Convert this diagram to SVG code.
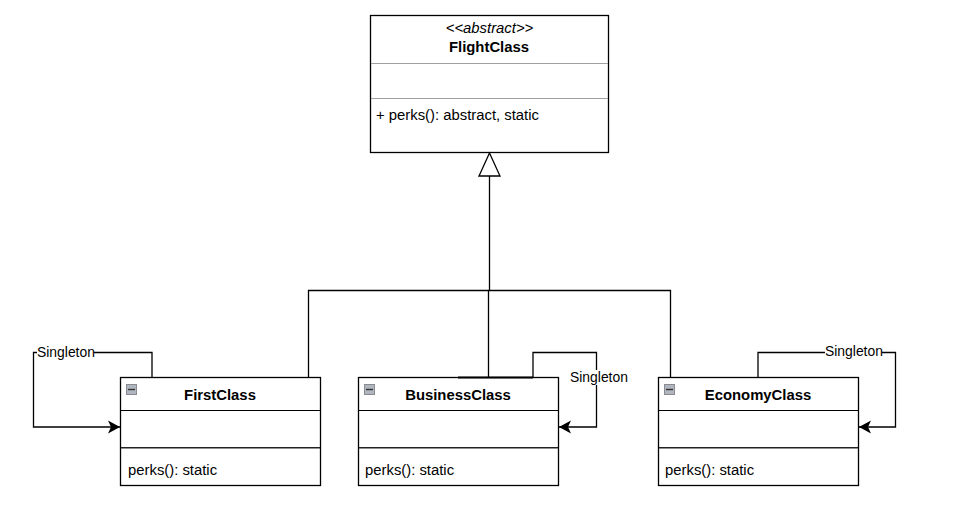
<svg xmlns="http://www.w3.org/2000/svg" width="961" height="522" viewBox="0 0 961 522">
<style>
text{font-family:"Liberation Sans",Arial,sans-serif;font-size:14.85px;fill:#000}
.n{text-anchor:middle}
.b{font-weight:bold;text-anchor:middle}
.s{font-size:13.9px}
.box{fill:#fff;stroke:#000;stroke-width:1.3}
.sep{stroke:#000;stroke-width:1;fill:none}
.sep2{stroke:#222;stroke-width:1.6;fill:none}
.lsep{stroke:#a0a0a0;stroke-width:1;fill:none}
.c{fill:none;stroke:#000;stroke-width:1.3}
.ico{fill:#b0b6c0;stroke:#8a8a90;stroke-width:1}
.mi{stroke:#333;stroke-width:1.4}
.lb{fill:#fff}
</style>
<defs>
<marker id="a" markerUnits="userSpaceOnUse" markerWidth="14" markerHeight="14" refX="12" refY="7" orient="auto">
<path d="M0 .5L12 7L0 13.500L3 7Z" fill="#000"/>
</marker>
</defs>
<rect width="961" height="522" fill="#fff"/>
<g id="FlightClass">
<rect class="box" x="370.500" y="15.500" width="238" height="137"/>
<path class="lsep" d="M371 63.500H608M371 98.500H608"/>
<text class="n" x="489.500" y="33" font-style="italic">&lt;&lt;abstract&gt;&gt;</text>
<text class="b" x="489" y="52">FlightClass</text>
<text x="376" y="120">+ perks(): abstract, static</text>
</g>
<g id="FirstClass">
<rect class="box" x="120.500" y="377.500" width="200" height="108"/>
<path class="sep" d="M121 410.500H320"/>
<path class="sep2" d="M121 447.700H320"/>
<rect class="ico" x="126.500" y="384.500" width="10" height="10"/>
<path class="mi" d="M128 389.500H135"/>
<text class="b" x="220" y="400">FirstClass</text>
<text x="128" y="475">perks(): static</text>
</g>
<g id="BusinessClass">
<rect class="box" x="358.500" y="377.500" width="200" height="108"/>
<path class="sep" d="M359 410.500H558"/>
<path class="sep2" d="M359 447.700H558"/>
<rect class="ico" x="364.500" y="384.500" width="10" height="10"/>
<path class="mi" d="M366 389.500H373"/>
<text class="b" x="458" y="400">BusinessClass</text>
<text x="365" y="475">perks(): static</text>
</g>
<g id="EconomyClass">
<rect class="box" x="658.500" y="377.500" width="200" height="108"/>
<path class="sep" d="M659 410.500H858"/>
<path class="sep2" d="M659 447.700H858"/>
<rect class="ico" x="664.500" y="384.500" width="10" height="10"/>
<path class="mi" d="M666 389.500H673"/>
<text class="b" x="758" y="400">EconomyClass</text>
<text x="665" y="475">perks(): static</text>
</g>
<g id="connectors">
<path class="c" d="M489.500 176V290.500M308.500 378V290.500H670.500V378M488.500 378V290.500"/>
<path d="M489.500 153L479 176H500Z" fill="#fff" stroke="#000" stroke-width="1.300"/>
<path class="c" d="M152 378V352.500H33.500V427H120" marker-end="url(#a)"/>
<path class="c" d="M533 378V352.500H596.500V427H559" marker-end="url(#a)"/>
<path class="c" d="M758 378V352.500H895.500V427H859" marker-end="url(#a)"/>
<path d="M458 377.500H533" stroke="#000" stroke-width="2" fill="none"/>
<rect class="lb" x="37" y="345" width="57" height="15"/>
<text class="s" x="37" y="357">Singleton</text>
<rect class="lb" x="570" y="370" width="57" height="15"/>
<text class="s" x="570" y="382">Singleton</text>
<rect class="lb" x="825" y="344" width="57" height="15"/>
<text class="s" x="825" y="356">Singleton</text>
</g>
</svg>
